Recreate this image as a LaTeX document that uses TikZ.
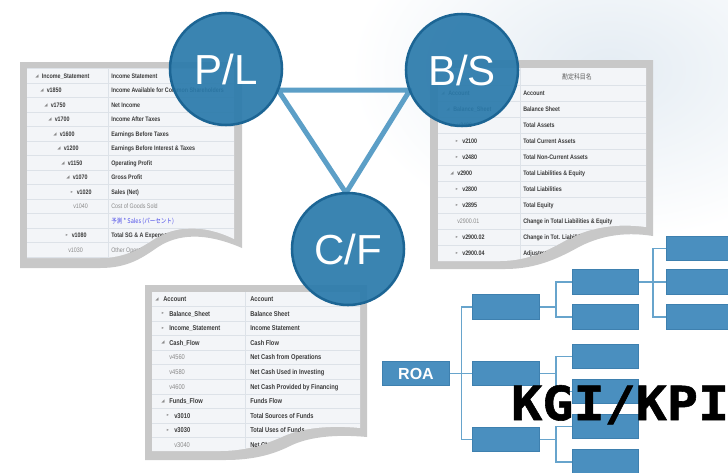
\documentclass[tikz,border=0pt]{standalone}
\usepackage{fontspec}
\setmainfont{Liberation Sans}
\newfontfamily\tabfont[FakeStretch=0.82]{Liberation Sans}
\newfontfamily\jpfont[FakeStretch=0.85]{Noto Sans CJK JP}
\newfontfamily\symfont{DejaVu Sans}
\newfontfamily\kpifont[FakeStretch=1.1, FakeBold=1.2]{DejaVu Sans Mono}
\usetikzlibrary{calc}
\definecolor{circfill}{HTML}{2A7AAB}
\definecolor{circline}{HTML}{1C6594}
\definecolor{triline}{HTML}{5C9FC7}
\definecolor{boxfill}{HTML}{4A8FBF}
\definecolor{boxline}{HTML}{3E80AF}
\definecolor{treeline}{HTML}{67A4CC}
\definecolor{framecol}{HTML}{C8C8C8}
\definecolor{pagebg}{HTML}{F3F5F8}
\definecolor{rowcol}{HTML}{DDE2E8}
\definecolor{tdark}{HTML}{3A3A3A}
\definecolor{tgrey}{HTML}{8A8A8A}
\definecolor{tmark}{HTML}{8A8A8A}
\definecolor{jpblue}{HTML}{4A4AE8}
\definecolor{haze}{HTML}{E4ECF3}
\tikzset{
  tpd/.style={anchor=base west, inner sep=0pt, text=tdark, font=\tabfont\bfseries\fontsize{4.9}{5}\selectfont},
  tpg/.style={anchor=base west, inner sep=0pt, text=tgrey, font=\tabfont\fontsize{4.9}{5}\selectfont},
  tpj/.style={anchor=base west, inner sep=0pt, text=jpblue, font=\jpfont\fontsize{4.9}{5}\selectfont},
  tcd/.style={anchor=base west, inner sep=0pt, text=tdark, font=\tabfont\bfseries\fontsize{5.25}{6}\selectfont},
  tcg/.style={anchor=base west, inner sep=0pt, text=tgrey, font=\tabfont\fontsize{5.25}{6}\selectfont},
  mk/.style={anchor=center, inner sep=0pt, text=tmark, font=\symfont\fontsize{3.2}{3.2}\selectfont},
  rowsep/.style={draw=rowcol, line width=0.45pt},
  circ/.style={circle, minimum size=84pt, inner sep=0pt, fill=circfill, fill opacity=0.92, text opacity=1,
    draw=circline, draw opacity=1, line width=1.9pt, text=white, font=\fontsize{31.5}{32}\selectfont},
  tbox/.style={rectangle, minimum width=49.75pt, minimum height=18.5pt, inner sep=0pt, fill=boxfill, draw=boxline, line width=0.6pt},
  tline/.style={draw=treeline, line width=1.1pt},
}
\begin{document}
\begin{tikzpicture}[x=0.75pt,y=-0.75pt]
\clip (0,0) rectangle (728,472);
\fill[white] (0,0) rectangle (728,472);
% background haze
\shade[inner color=haze, outer color=white] (610,70) ellipse (260 and 170);

% ---------------- P/L page ----------------
\fill[framecol] (20,62) -- (242,62) -- (242,248) .. controls (205,232) and (178,234) .. (158,247)
  .. controls (142,258) and (128,268) .. (100,268) -- (20,268) -- cycle;
\begin{scope}
\clip (27,68) -- (234,68) -- (234,239) .. controls (203,224) and (176,226) .. (156,238)
  .. controls (140,248) and (126,258) .. (100,258) -- (27,258) -- cycle;
\fill[pagebg] (0,0) rectangle (728,472);
\foreach \k in {0,...,13} \draw[rowsep] (27,68.75+14.5*\k) -- (234,68.75+14.5*\k);
\draw[rowsep] (108,68) -- (108,270);
\foreach \m/\mx/\ls/\lt/\rs/\rt [count=\k from 0] in {
  ◢/37/tpd/Income\_Statement/tpd/Income Statement,
  ◢/42/tpd/v1850/tpd/Income Available for Common Shareholders,
  ◢/46/tpd/v1750/tpd/Net Income,
  ◢/50/tpd/v1700/tpd/Income After Taxes,
  ◢/55/tpd/v1600/tpd/Earnings Before Taxes,
  ◢/59/tpd/v1200/tpd/Earnings Before Interest \& Taxes,
  ◢/63/tpd/v1150/tpd/Operating Profit,
  ◢/68/tpd/v1070/tpd/Gross Profit,
  ▸/72/tpd/v1020/tpd/Sales (Net),
  {}/68.5/tpg/v1040/tpg/Cost of Goods Sold,
  {}/68.5/tpg/{}/tpj/予測 * Sales (パーセント),
  ▸/67/tpd/v1080/tpd/Total SG \& A Expense,
  {}/63.5/tpg/v1030/tpg/Other Operating Expense}
{
  \node[mk] (pl-m-\k) at (\mx,76+14.5*\k) {\m};
  \node[\ls] (pl-l-\k) at (\mx+4.5,78.3+14.5*\k) {\lt};
  \node[\rs] (pl-r-\k) at (111,78.3+14.5*\k) {\rt};
}
\end{scope}

% ---------------- B/S page ----------------
\fill[framecol] (430,60) -- (653,60) -- (653,236) .. controls (622,231) and (597,237) .. (577,248)
  .. controls (557,259) and (535,269) .. (505,269) -- (430,269) -- cycle;
\begin{scope}
\clip (438,68) -- (646,68) -- (646,227) .. controls (615,223) and (590,228) .. (570,238)
  .. controls (550,249) and (530,261) .. (500,261) -- (438,261) -- cycle;
\fill[pagebg] (0,0) rectangle (728,472);
\foreach \k in {0,...,12} \draw[rowsep] (438,85+16*\k) -- (646,85+16*\k);
\draw[rowsep] (520,68) -- (520,270);
\node[inner sep=0pt, text=tdark!80, font=\jpfont\fontsize{5.25}{6}\selectfont] (bs-h) at (577,77) {勘定科目名};
\foreach \m/\mx/\ls/\lt/\rs/\rt [count=\k from 0] in {
  ◢/443/tpd/Account/tpd/Account,
  ◢/448/tpd/Balance\_Sheet/tpd/Balance Sheet,
  ◢/452/tpd/v2400/tpd/Total Assets,
  ▸/457/tpd/v2100/tpd/Total Current Assets,
  ▸/457/tpd/v2480/tpd/Total Non-Current Assets,
  ◢/452/tpd/v2900/tpd/Total Liabilities \& Equity,
  ▸/457/tpd/v2800/tpd/Total Liabilities,
  ▸/457/tpd/v2895/tpd/Total Equity,
  {}/452/tpg/v2900.01/tpd/Change in Total Liabilities \& Equity,
  ▸/457/tpd/v2900.02/tpd/Change in Tot. Liabilities,
  ▸/457/tpd/v2900.04/tpd/Adjustments}
{
  \node[mk] (bs-m-\k) at (\mx,93+16*\k) {\m};
  \node[\ls] (bs-l-\k) at (\mx+5,95.3+16*\k) {\lt};
  \node[\rs] (bs-r-\k) at (523,95.3+16*\k) {\rt};
}
\end{scope}

% ---------------- C/F page ----------------
\fill[framecol] (145,285) -- (367,285) -- (367,437) .. controls (335,434) and (308,437) .. (290,446)
  .. controls (272,455) and (252,460) .. (225,460) -- (145,460) -- cycle;
\begin{scope}
\clip (152,292) -- (360,292) -- (360,428) .. controls (330,425) and (302,428) .. (284,436)
  .. controls (266,444) and (246,451) .. (220,451) -- (152,451) -- cycle;
\fill[pagebg] (0,0) rectangle (728,472);
\foreach \k in {0,...,11} \draw[rowsep] (152,306.3+14.6*\k) -- (360,306.3+14.6*\k);
\draw[rowsep] (245,292) -- (245,460);
\foreach \m/\mx/\ls/\lt/\rs/\rt [count=\k from 0] in {
  ◢/157/tcd/Account/tcd/Account,
  ▸/163/tcd/Balance\_Sheet/tcd/Balance Sheet,
  ▸/163/tcd/Income\_Statement/tcd/Income Statement,
  ◢/163/tcd/Cash\_Flow/tcd/Cash Flow,
  {}/163/tcg/v4560/tcd/Net Cash from Operations,
  {}/163/tcg/v4580/tcd/Net Cash Used in Investing,
  {}/163/tcg/v4600/tcd/Net Cash Provided by Financing,
  ◢/163/tcd/Funds\_Flow/tcd/Funds Flow,
  ▸/168/tcd/v3010/tcd/Total Sources of Funds,
  ▸/168/tcd/v3030/tcd/Total Uses of Funds,
  {}/168/tcg/v3040/tcd/Net Change in Funds}
{
  \node[mk] (cf-m-\k) at (\mx,299+14.6*\k) {\m};
  \node[\ls] (cf-l-\k) at (\mx+6,301.5+14.6*\k) {\lt};
  \node[\rs] (cf-r-\k) at (250,301.5+14.6*\k) {\rt};
}
\end{scope}

% ---------------- triangle and circles ----------------
\coordinate (plc) at (226,69);
\coordinate (bsc) at (462,70);
\coordinate (cfc) at (348,249);
\coordinate (t1) at ($(plc)+(52,21)$);
\coordinate (t2) at ($(bsc)+(-52,20)$);
\coordinate (t3) at ($(cfc)+(-2,-56)$);
\draw[triline, line width=3.75pt, line join=round] (t1) -- (t2) -- (t3) -- cycle;
\node[circ] (PL) at (plc) {P/L};
\node[circ] (BS) at (bsc) {B/S};
\node[circ] (CF) at (cfc) {C/F};

% ---------------- tree ----------------
\node[tbox, text=white, font=\bfseries\fontsize{12}{12}\selectfont] (roa) at (416,373.5) {ROA};
\node[tbox] (a1) at (506,307) {};
\node[tbox] (a2) at (506,373.5) {};
\node[tbox] (a3) at (506,439.5) {};
\node[tbox] (b1) at (605.5,282) {};
\node[tbox] (b2) at (605.5,317) {};
\node[tbox] (b3) at (605.5,356.5) {};
\node[tbox] (b4) at (605.5,391.5) {};
\node[tbox] (b5) at (605.5,426.5) {};
\node[tbox] (b6) at (605.5,462) {};
\node[tbox] (c1) at (700,248.5) {};
\node[tbox] (c2) at (700,282) {};
\node[tbox] (c3) at (700,317) {};
\coordinate (j0) at ($(roa.east)+(12,0)$);
\coordinate (j1) at ($(a1.east)+(16.5,0)$);
\coordinate (j2) at ($(a2.east)+(16.5,0)$);
\coordinate (j3) at ($(a3.east)+(16.5,0)$);
\coordinate (j4) at ($(b1.east)+(14,0)$);
\draw[tline] (roa.east) -- (a2.west);
\draw[tline] (a1.west) -| (j0) |- (a3.west);
\draw[tline] (a1.east) -- (j1);
\draw[tline] (b1.west) -| (j1) |- (b2.west);
\draw[tline] (a2.east) -- (j2);
\draw[tline] (b3.west) -| (j2) |- (b4.west);
\draw[tline] (a3.east) -- (j3);
\draw[tline] (b5.west) -| (j3) |- (b6.west);
\draw[tline] (b1.east) -- (c2.west);
\draw[tline] (c1.west) -| (j4) |- (c3.west);

\node[anchor=base west, inner sep=0pt, text=black, font=\kpifont\bfseries\fontsize{35.25}{36}\selectfont] (kpi) at (511,420) {KGI/KPI};
\end{tikzpicture}
\end{document}
